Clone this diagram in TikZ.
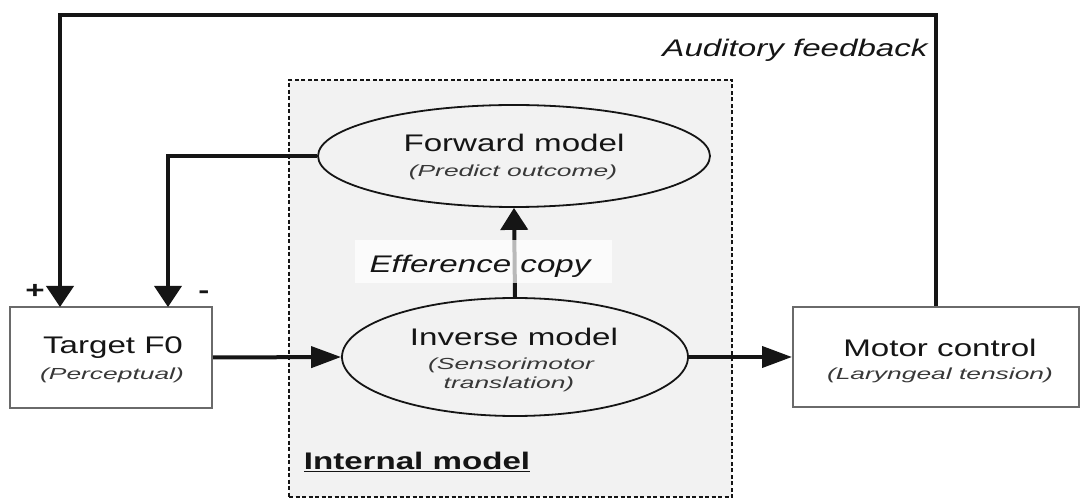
\documentclass[tikz,border=0pt]{standalone}
\usepackage{fontspec}
\setmainfont{Liberation Sans}[FakeStretch=1.38]
\newfontfamily\subf{Liberation Sans}[FakeStretch=1.65]
\usetikzlibrary{arrows.meta,shapes.geometric}
\definecolor{ink}{HTML}{151515}
\definecolor{panel}{HTML}{F2F2F2}
\definecolor{boxline}{HTML}{6A6A6A}
\tikzset{
  mainlbl/.style={anchor=base,inner sep=0pt,text=ink,font=\fontsize{24}{28}\selectfont},
  sublbl/.style={anchor=base,inner sep=0pt,text=ink!85,font=\subf\itshape\fontsize{16}{18}\selectfont},
  blockbox/.style={draw=boxline,line width=2pt,fill=white,inner sep=0pt},
  modelell/.style={ellipse,draw=ink,line width=1.8pt,fill=panel,inner sep=0pt},
  vtip/.style={-{Triangle[length=21pt,width=27pt]}},
  htip/.style={-{Triangle[length=30pt,width=21pt]}},
  flow/.style={draw=ink,line width=4pt},
}
\begin{document}
\begin{tikzpicture}[x=1pt,y=-1pt]
\useasboundingbox[fill=white] (0,0) rectangle (1082,502);

% internal model panel
\node[draw=ink,dash pattern=on 4pt off 2.5pt,line width=1.4pt,fill=panel,
      minimum width=443pt,minimum height=417pt,inner sep=0pt] (panel) at (510.5,288.5) {};
\node[mainlbl,font=\fontsize{24}{28}\selectfont\bfseries] (intl) at (417,470) {\underline{Internal model}};

% blocks
\node[blockbox,minimum width=202pt,minimum height=101pt] (target) at (111,357.5) {};
\node[blockbox,minimum width=286pt,minimum height=100pt] (motor) at (936,357) {};
\node[modelell,minimum width=392pt,minimum height=102pt] (fwd) at (514,156) {};
\node[modelell,minimum width=346pt,minimum height=118pt] (inv) at (515,357) {};

% block texts
\node[mainlbl] (tgtt) at (113,354) {Target F0};
\node[sublbl] (tgts) at (112,380) {(Perceptual)};
\node[mainlbl] (mott) at (940,357) {Motor control};
\node[sublbl] (mots) at (940,380) {(Laryngeal tension)};
\node[mainlbl] (fwdt) at (514,152) {Forward model};
\node[sublbl] (fwds) at (513,177) {(Predict outcome)};
\node[mainlbl] (invt) at (514,346) {Inverse model};
\node[sublbl] (invs) at (511,370) {(Sensorimotor};
\node[sublbl] (invu) at (509,389) {translation)};

% connectors
\coordinate (posin) at (60,307);
\coordinate (negin) at (168,307);
\coordinate (topleft) at (60,15);
\draw[flow,vtip] (motor.north) |- (topleft) -- (posin);
\draw[flow,line width=3.5pt,vtip] (fwd.west) -| (negin);
\draw[flow,htip] (target.east) -- (inv.west);
\draw[flow,htip] (inv.east) -- (motor.west);
\draw[flow,-{Triangle[length=22pt,width=27pt]}] (inv.north) -- (fwd.south);

% efference copy label sits over the line
\node[fill=white,fill opacity=0.7,minimum width=257pt,minimum height=43pt,inner sep=0pt] (effbox) at (483.5,261.5) {};
\node[mainlbl,font=\fontsize{24}{28}\selectfont\itshape] (efft) at (480,273) {Efference copy};

% feedback label and signs
\node[mainlbl,font=\fontsize{24}{28}\selectfont\itshape] (audt) at (795,57) {Auditory feedback};
\node[mainlbl,font=\fontsize{24}{28}\selectfont\bfseries] (plus) at (35,299) {+};
\node[mainlbl,font=\fontsize{24}{28}\selectfont\bfseries] (minus) at (204,299) {-};
\end{tikzpicture}
\end{document}
